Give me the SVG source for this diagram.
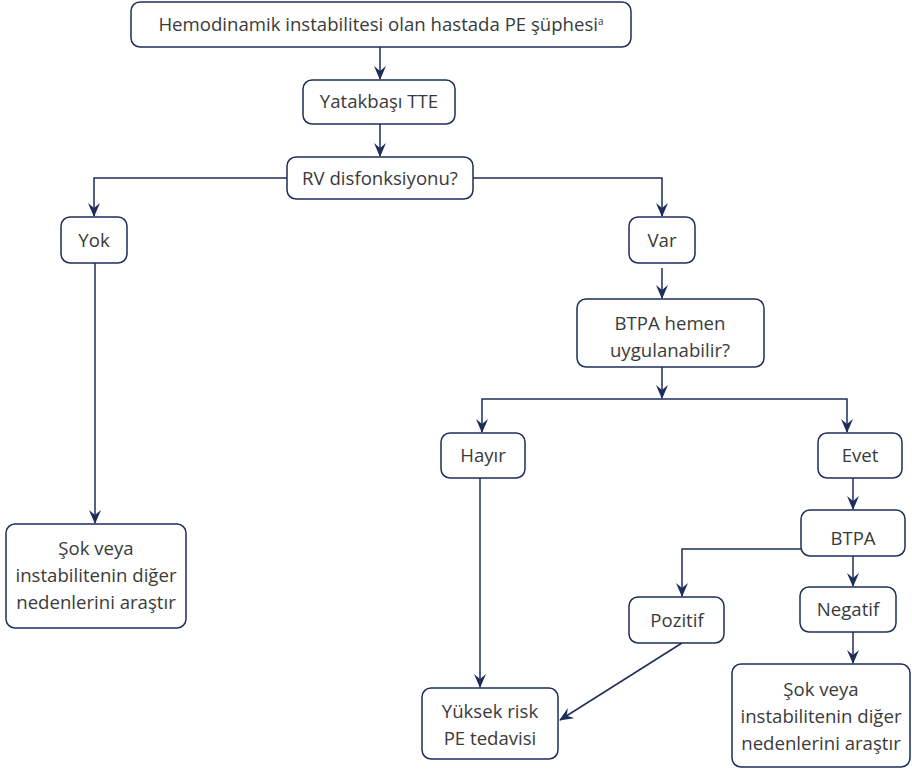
<svg xmlns="http://www.w3.org/2000/svg" width="912" height="771" viewBox="0 0 912 771">
<defs>
<style>
.box{fill:#fff;stroke:#1f2d5a;stroke-width:1.5}
.t{font-family:"Open Sans","Noto Sans",sans-serif;font-size:18.6px;fill:#3a3a3a;text-anchor:middle}
.c{fill:none;stroke:#1f2d5a;stroke-width:1.5}
</style>
<marker id="ah" markerWidth="14" markerHeight="14" refX="13" refY="7" orient="auto" markerUnits="userSpaceOnUse">
<path d="M0,1 L14,7 L0,13 L5,7 Z" fill="#1f2d5a"/>
</marker>
</defs>
<rect width="912" height="771" fill="#fff"/>
<g id="connectors">
<path class="c" d="M380,47 V79" marker-end="url(#ah)"/>
<path class="c" d="M380,124 V156" marker-end="url(#ah)"/>
<path class="c" d="M287,178 H94 V216" marker-end="url(#ah)"/>
<path class="c" d="M473,178 H662 V216" marker-end="url(#ah)"/>
<path class="c" d="M95,263 V523" marker-end="url(#ah)"/>
<path class="c" d="M662,268 V298" marker-end="url(#ah)"/>
<path class="c" d="M662,367 V398" marker-end="url(#ah)"/>
<path class="c" d="M662,399 H482 V432" marker-end="url(#ah)"/>
<path class="c" d="M662,399 H847 V432" marker-end="url(#ah)"/>
<path class="c" d="M480,478 V687" marker-end="url(#ah)"/>
<path class="c" d="M853,478 V509" marker-end="url(#ah)"/>
<path class="c" d="M801,549 H682 V596" marker-end="url(#ah)"/>
<path class="c" d="M853,556 V586" marker-end="url(#ah)"/>
<path class="c" d="M682,643 L560,720" marker-end="url(#ah)"/>
<path class="c" d="M853,632 V663" marker-end="url(#ah)"/>
</g>
<g id="n1"><rect class="box" x="131" y="2" width="500" height="45" rx="9"/>
<text class="t" x="381" y="31">Hemodinamik instabilitesi olan hastada PE şüphesi<tspan font-size="10" dy="-6">a</tspan></text></g>
<g id="n2"><rect class="box" x="303" y="80" width="152" height="44" rx="9"/>
<text class="t" x="379" y="108">Yatakbaşı TTE</text></g>
<g id="n3"><rect class="box" x="287" y="157" width="186" height="42" rx="9"/>
<text class="t" x="380" y="185">RV disfonksiyonu?</text></g>
<g id="n4"><rect class="box" x="61" y="217" width="66" height="46" rx="9"/>
<text class="t" x="94" y="247">Yok</text></g>
<g id="n5"><rect class="box" x="629" y="217" width="66" height="46" rx="9"/>
<text class="t" x="662" y="247">Var</text></g>
<g id="n6"><rect class="box" x="577" y="299" width="187" height="68" rx="9"/>
<text class="t" x="670" y="330">BTPA hemen</text>
<text class="t" x="670" y="357">uygulanabilir?</text></g>
<g id="n7"><rect class="box" x="441" y="433" width="84" height="45" rx="9"/>
<text class="t" x="483" y="462">Hayır</text></g>
<g id="n8"><rect class="box" x="818" y="433" width="84" height="45" rx="9"/>
<text class="t" x="860" y="462">Evet</text></g>
<g id="n9"><rect class="box" x="801" y="510" width="104" height="46" rx="9"/>
<text class="t" x="853" y="545">BTPA</text></g>
<g id="n10"><rect class="box" x="629" y="597" width="95" height="46" rx="9"/>
<text class="t" x="677" y="627">Pozitif</text></g>
<g id="n11"><rect class="box" x="800" y="587" width="96" height="45" rx="9"/>
<text class="t" x="848" y="616">Negatif</text></g>
<g id="n12"><rect class="box" x="6" y="524" width="180" height="104" rx="9"/>
<text class="t" x="96" y="555">Şok veya</text>
<text class="t" x="96" y="582">instabilitenin diğer</text>
<text class="t" x="96" y="609">nedenlerini araştır</text></g>
<g id="n13"><rect class="box" x="422" y="688" width="136" height="71" rx="9"/>
<text class="t" x="490" y="718">Yüksek risk</text>
<text class="t" x="490" y="745">PE tedavisi</text></g>
<g id="n14"><rect class="box" x="732" y="664" width="178" height="103" rx="9"/>
<text class="t" x="821" y="696">Şok veya</text>
<text class="t" x="821" y="723">instabilitenin diğer</text>
<text class="t" x="821" y="750">nedenlerini araştır</text></g>
</svg>
